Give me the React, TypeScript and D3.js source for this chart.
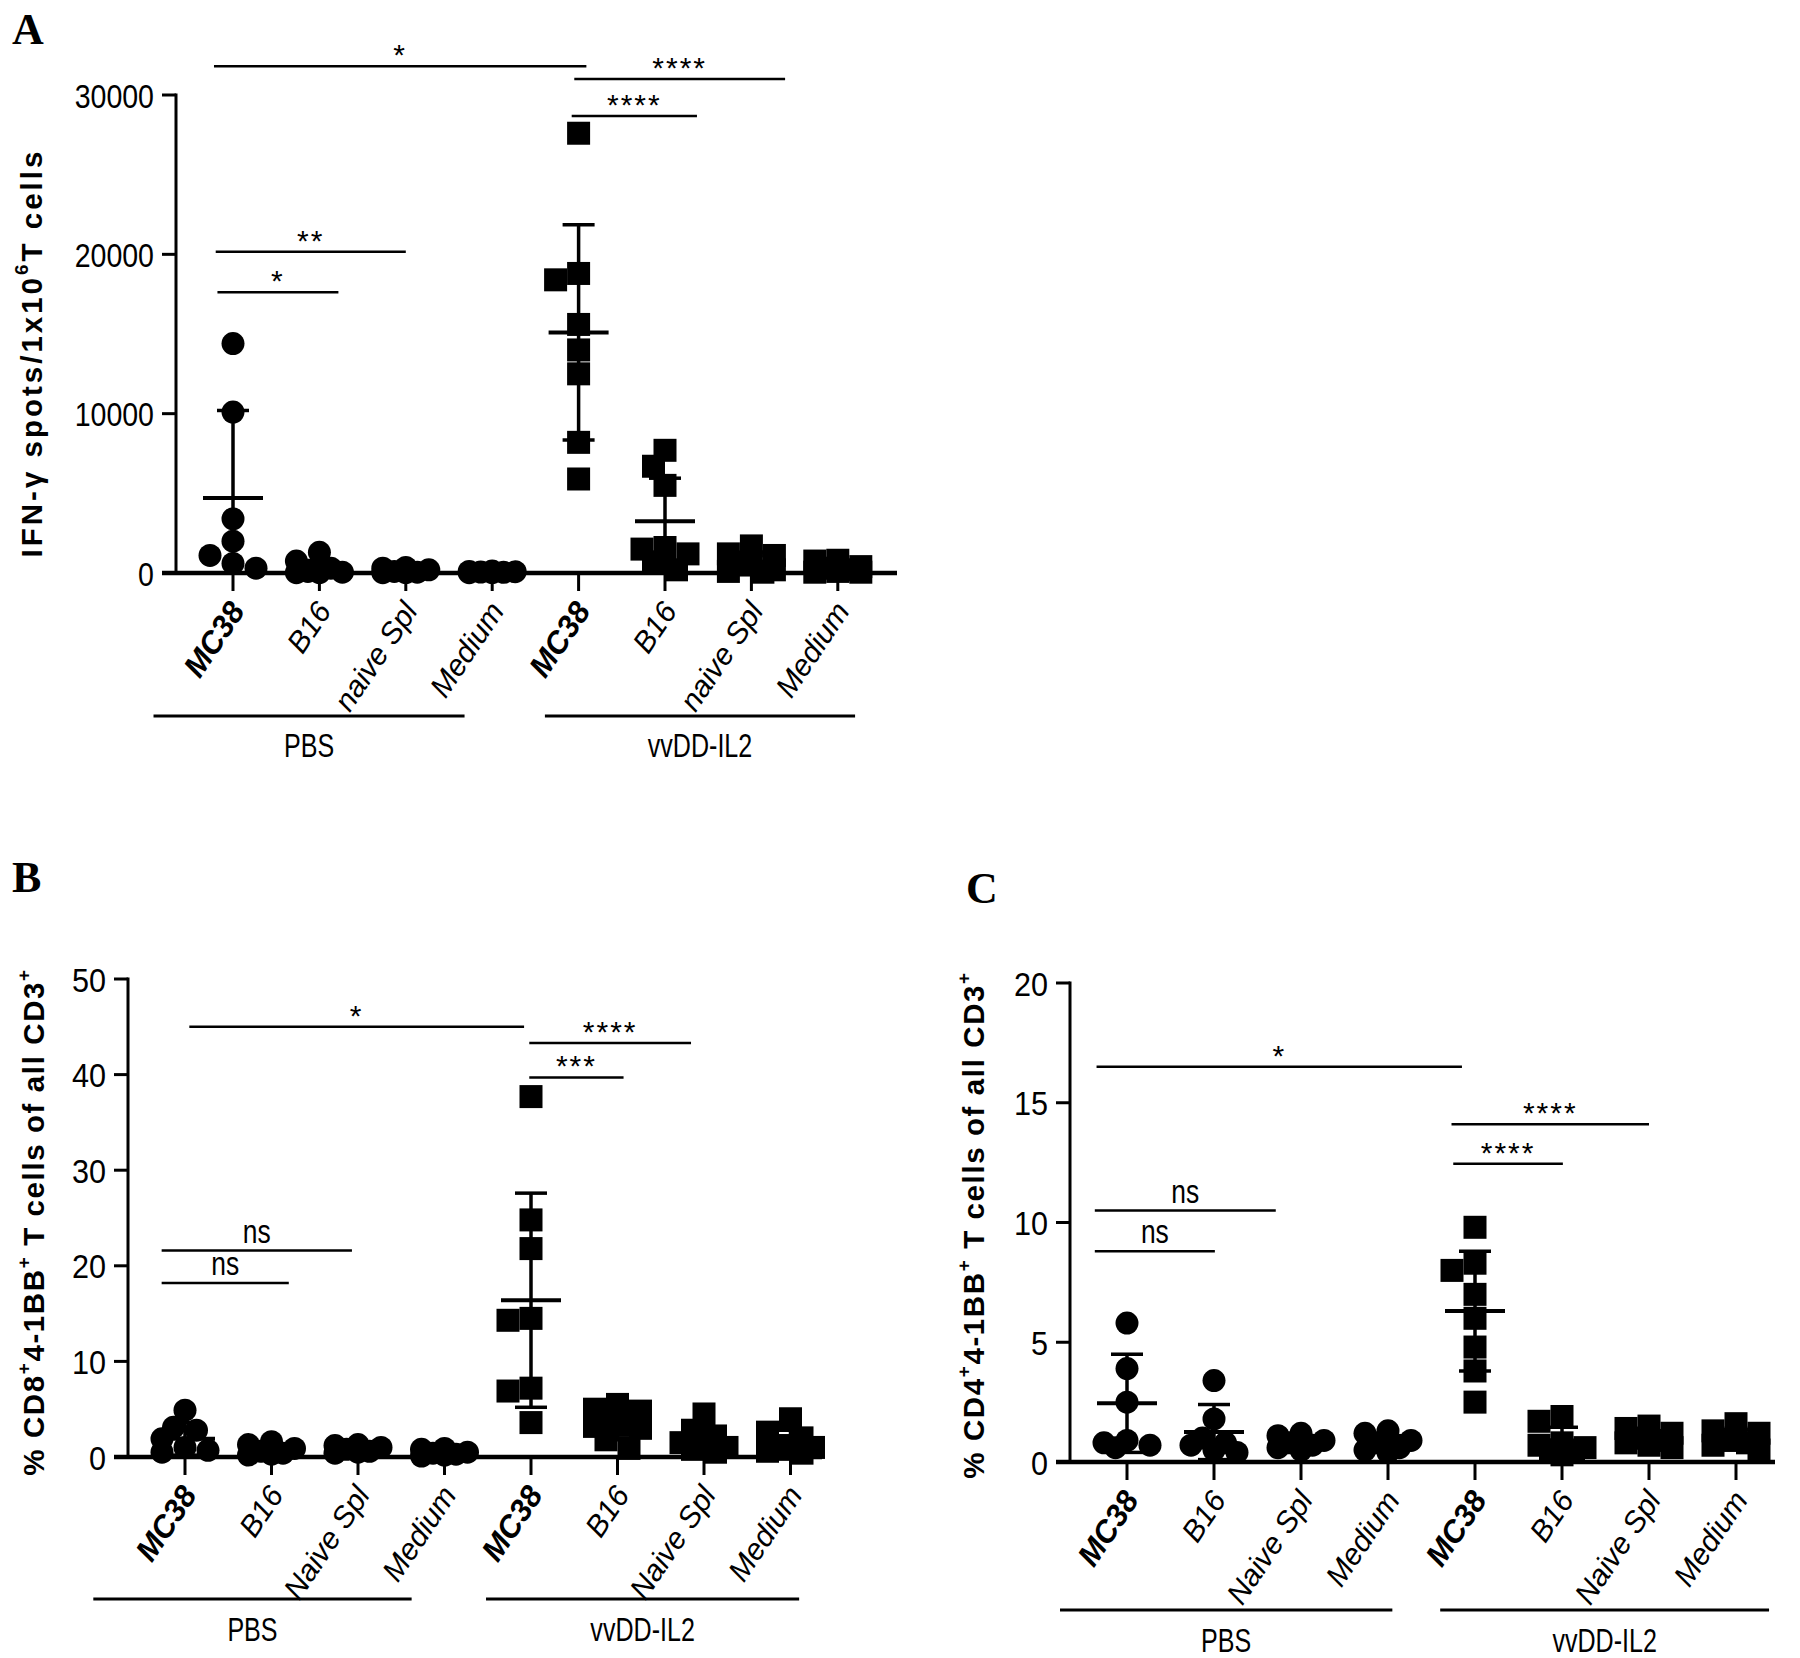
import React from 'react';
import * as d3 from 'd3';

const W = 1800;
const H = 1658;

// ---------- categories / groups ----------
const categoriesA = ['MC38', 'B16', 'naive Spl', 'Medium', 'MC38', 'B16', 'naive Spl', 'Medium'];
const categoriesBC = ['MC38', 'B16', 'Naive Spl', 'Medium', 'MC38', 'B16', 'Naive Spl', 'Medium'];
const groupNames = ['PBS', 'vvDD-IL2'];

// ---------- Panel A : IFN-γ spots ----------
const ifnValues = [
  [14400, 10100, 3400, 2000, 1100, 600, 300],
  [1300, 750, 300, 100, 50, 30, 20],
  [350, 300, 200, 100, 50, 30, 20],
  [120, 100, 80, 60, 40, 30, 20],
  [27600, 18800, 18400, 15600, 14000, 12500, 8200, 5900],
  [7700, 6700, 5500, 1600, 1500, 1200, 700, 200],
  [1700, 1200, 1100, 700, 500, 200, 100, 50],
  [800, 750, 400, 300, 200, 100, 50, 50],
];
const ifnMeans = [4700, 330, 150, 60, 15100, 3250, 700, 330];
const ifnSD = [5500, 450, 130, 40, 6750, 2700, 600, 300];
const ifnTicks = [0, 10000, 20000, 30000];
const ifnSig = [
  { from: -0.22, to: 4.09, value: 31800, label: '*' },
  { from: 3.95, to: 6.39, value: 31000, label: '****' },
  { from: 3.92, to: 5.37, value: 28680, label: '****' },
  { from: -0.2, to: 2.0, value: 20160, label: '**' },
  { from: -0.18, to: 1.22, value: 17620, label: '*' },
];
const ifnGroupSpans = [[-0.92, 2.68], [3.61, 7.2]];

// ---------- Panel B : CD8+ 4-1BB+ ----------
const cd8Values = [
  [4.9, 3.1, 2.8, 1.9, 1.0, 0.7, 0.5],
  [1.6, 1.3, 0.9, 0.6, 0.4, 0.3, 0.2],
  [1.3, 1.2, 1.0, 0.8, 0.6, 0.5, 0.4],
  [0.9, 0.8, 0.5, 0.4, 0.3, 0.2, 0.1],
  [37.7, 24.8, 21.8, 14.5, 14.3, 7.2, 6.9, 3.6],
  [5.5, 5.0, 4.8, 3.3, 3.2, 3.0, 1.8, 0.9],
  [4.5, 2.8, 2.2, 1.5, 1.2, 1.0, 0.8, 0.5],
  [4.0, 2.6, 2.0, 1.2, 1.0, 0.8, 0.6, 0.4],
];
const cd8Means = [1.9, 0.8, 0.8, 0.45, 16.4, 3.4, 1.8, 1.6];
const cd8SD = [1.7, 0.5, 0.3, 0.25, 11.2, 1.6, 1.3, 1.2];
const cd8Ticks = [0, 10, 20, 30, 40, 50];
const cd8Sig = [
  { from: 0.05, to: 3.92, value: 45.0, label: '*' },
  { from: 3.98, to: 5.85, value: 43.3, label: '****' },
  { from: 3.98, to: 5.07, value: 39.7, label: '***' },
  { from: -0.27, to: 1.93, value: 21.6, label: 'ns' },
  { from: -0.27, to: 1.2, value: 18.2, label: 'ns' },
];
const cd8GroupSpans = [[-1.06, 2.62], [3.48, 7.1]];

// ---------- Panel C : CD4+ 4-1BB+ ----------
const cd4Values = [
  [5.8, 3.9, 2.5, 0.9, 0.8, 0.7, 0.6],
  [3.4, 1.8, 1.0, 0.8, 0.7, 0.5, 0.4],
  [1.2, 1.1, 0.9, 0.8, 0.7, 0.6, 0.5],
  [1.3, 1.2, 0.9, 0.8, 0.6, 0.5, 0.4],
  [9.8, 8.3, 8.0, 7.0, 6.0, 4.8, 3.8, 2.5],
  [1.9, 1.7, 0.8, 0.7, 0.6, 0.5, 0.4, 0.3],
  [1.5, 1.4, 1.2, 1.0, 0.9, 0.8, 0.7, 0.6],
  [1.6, 1.3, 1.2, 1.0, 0.9, 0.8, 0.7, 0.5],
];
const cd4Means = [2.45, 1.25, 0.85, 0.8, 6.3, 0.9, 0.95, 0.95];
const cd4SD = [2.05, 1.15, 0.2, 0.3, 2.5, 0.55, 0.35, 0.4];
const cd4Ticks = [0, 5, 10, 15, 20];
const cd4Sig = [
  { from: -0.35, to: 3.85, value: 16.5, label: '*' },
  { from: 3.73, to: 6.0, value: 14.1, label: '****' },
  { from: 3.75, to: 5.01, value: 12.45, label: '****' },
  { from: -0.37, to: 1.71, value: 10.5, label: 'ns' },
  { from: -0.37, to: 1.01, value: 8.8, label: 'ns' },
];
const cd4GroupSpans = [[-0.77, 3.05], [3.6, 7.38]];

// ---------- layout (positions only) ----------
const layoutA = { axisX: 176, y0: 573, yTop: 95, cat0: 233, step: 86.4, xEnd: 897, tickSx: 0.84, groupLineY: 716, groupLabelY: 757, yLabelX: 34, yLabelY: 353, yLabelLS: 3, letter: 'A', letterX: 12, letterY: 44 };
const layoutB = { axisX: 128, y0: 1457, yTop: 979, cat0: 185, step: 86.5, xEnd: 822, tickSx: 0.9, groupLineY: 1599, groupLabelY: 1641, yLabelX: 36, yLabelY: 1222, yLabelLS: 1.6, letter: 'B', letterX: 12, letterY: 892 };
const layoutC = { axisX: 1070, y0: 1462, yTop: 983, cat0: 1127, step: 87, xEnd: 1775, tickSx: 0.9, groupLineY: 1610, groupLabelY: 1652, yLabelX: 976, yLabelY: 1225, yLabelLS: 1.6, letter: 'C', letterX: 966, letterY: 903 };

const SANS = '"Liberation Sans", Arial, Helvetica, sans-serif';
const SERIF = '"Liberation Serif", "Times New Roman", serif';

function swarmOffsets(values: number[], y: (v: number) => number, size: number): number[] {
  const order = values.map((_, i) => i).sort((a, b) => values[b] - values[a]);
  const placed: { x: number; y: number }[] = [];
  const offsets = new Array(values.length).fill(0);
  const step = size * 0.5;
  const thr = size * 0.85;
  const cands = [0, -1, 1, -2, 2];
  for (const i of order) {
    const py = y(values[i]);
    let best = 0;
    let bestD = -1;
    for (const c of cands) {
      const px = c * step;
      let md = Infinity;
      for (const p of placed) md = Math.min(md, Math.hypot(p.x - px, p.y - py));
      if (md >= thr) { best = px; bestD = Infinity; break; }
      if (md > bestD) { bestD = md; best = px; }
    }
    offsets[i] = best;
    placed.push({ x: best, y: py });
  }
  return offsets;
}

function CondText({ x, y, sx, anchor, size, children, weight }: any) {
  return (
    <text transform={`translate(${x},${y}) scale(${sx},1)`} textAnchor={anchor} fontSize={size}
      fontFamily={SANS} fontWeight={weight || 'normal'} fill="#000">{children}</text>
  );
}

function Panel({ L, names, values, means, sds, ticks, sig, spans, yLabel }: any) {
  const yMax = ticks[ticks.length - 1];
  const y = d3.scaleLinear().domain([0, yMax]).range([L.y0, L.yTop]);
  const x = d3.scaleLinear().domain([0, 7]).range([L.cat0, L.cat0 + 7 * L.step]);
  const cats = d3.range(names.length);
  const markerSize = 23;
  const fmt = d3.format('d');

  return (
    <g>
      <text x={L.letterX} y={L.letterY} fontFamily={SERIF} fontWeight="bold" fontSize={44}>{L.letter}</text>

      {/* y label */}
      <text transform={`translate(${L.yLabelX},${L.yLabelY}) rotate(-90)`} textAnchor="middle"
        fontFamily={SANS} fontWeight="bold" fontSize={29.5} letterSpacing={L.yLabelLS} dominantBaseline="middle">
        {yLabel}
      </text>

      {/* points */}
      {cats.map((ci) => {
        const vals = values[ci];
        const offs = swarmOffsets(vals, y, markerSize);
        return vals.map((v: number, j: number) => {
          const cx = x(ci) + offs[j];
          const cy = y(v);
          return ci < 4
            ? <circle key={`p${ci}-${j}`} cx={cx} cy={cy} r={markerSize / 2} fill="#000" />
            : <rect key={`p${ci}-${j}`} x={cx - markerSize / 2} y={cy - markerSize / 2} width={markerSize} height={markerSize} fill="#000" />;
        });
      })}

      {/* mean & SD */}
      {cats.map((ci) => {
        const m = means[ci];
        const s = sds[ci];
        const cx = x(ci);
        const lo = Math.max(0, m - s);
        return (
          <g key={`e${ci}`} stroke="#000" strokeWidth={3.5}>
            <line x1={cx} x2={cx} y1={y(lo)} y2={y(m + s)} />
            <line x1={cx - 16} x2={cx + 16} y1={y(m + s)} y2={y(m + s)} />
            {m - s > 0 && <line x1={cx - 16} x2={cx + 16} y1={y(lo)} y2={y(lo)} />}
            <line x1={cx - 30} x2={cx + 30} y1={y(m)} y2={y(m)} strokeWidth={4} />
          </g>
        );
      })}

      {/* axes */}
      <line x1={L.axisX} x2={L.axisX} y1={L.yTop - 1.5} y2={L.y0} stroke="#000" strokeWidth={3} />
      <line x1={L.axisX - 14} x2={L.xEnd} y1={L.y0} y2={L.y0} stroke="#000" strokeWidth={4.5} />
      {ticks.map((t: number) => (
        <g key={`yt${t}`}>
          <line x1={L.axisX - 14} x2={L.axisX} y1={y(t)} y2={y(t)} stroke="#000" strokeWidth={3} />
          <CondText x={L.axisX - 22} y={y(t) + 12.5} sx={L.tickSx} anchor="end" size={34}>{fmt(t)}</CondText>
        </g>
      ))}
      {cats.map((ci) => (
        <line key={`xt${ci}`} x1={x(ci)} x2={x(ci)} y1={L.y0} y2={L.y0 + 18} stroke="#000" strokeWidth={3} />
      ))}
      {cats.map((ci) => (
        <text key={`xl${ci}`} transform={`translate(${x(ci) + 13},${L.y0 + 38}) rotate(-56)`} textAnchor="end"
          fontFamily={SANS} fontStyle="italic" fontWeight={ci % 4 === 0 ? 'bold' : 'normal'} fontSize={ci % 4 === 0 ? 31 : 30}>
          {names[ci]}
        </text>
      ))}

      {/* group lines */}
      {spans.map((sp: number[], gi: number) => (
        <g key={`g${gi}`}>
          <line x1={x(sp[0])} x2={x(sp[1])} y1={L.groupLineY} y2={L.groupLineY} stroke="#000" strokeWidth={3} />
          <CondText x={(x(sp[0]) + x(sp[1])) / 2} y={L.groupLabelY} sx={0.76} anchor="middle" size={33}>{groupNames[gi]}</CondText>
        </g>
      ))}

      {/* significance */}
      {sig.map((s: any, i: number) => {
        const x1 = x(s.from);
        const x2 = x(s.to);
        const yy = y(s.value);
        const isStar = s.label.indexOf('*') >= 0;
        return (
          <g key={`s${i}`}>
            <line x1={x1} x2={x2} y1={yy} y2={yy} stroke="#000" strokeWidth={2.5} />
            {isStar
              ? <text x={(x1 + x2) / 2} y={yy - 1} textAnchor="middle" fontFamily={SANS} fontSize={30} letterSpacing={2}>{s.label}</text>
              : <CondText x={(x1 + x2) / 2} y={yy - 8} sx={0.8} anchor="middle" size={33}>{s.label}</CondText>}
          </g>
        );
      })}
    </g>
  );
}

export default function App() {
  const sup = (t: string) => <tspan dy={-11} fontSize={19}>{t}</tspan>;
  const down = (t: string) => <tspan dy={11}>{t}</tspan>;
  const labelA = (<>IFN-γ spots/1x10{sup('6')}{down('T cells')}</>);
  const labelB = (<>% CD8{sup('+')}{down('4-1BB')}{sup('+')}{down(' T cells of all CD3')}{sup('+')}</>);
  const labelC = (<>% CD4{sup('+')}{down('4-1BB')}{sup('+')}{down(' T cells of all CD3')}{sup('+')}</>);
  return (
    <svg width={W} height={H} viewBox={`0 0 ${W} ${H}`} style={{ position: 'absolute', left: 0, top: 0, background: '#fff' }}>
      <rect x={0} y={0} width={W} height={H} fill="#fff" />
      <Panel L={layoutA} names={categoriesA} values={ifnValues} means={ifnMeans} sds={ifnSD} ticks={ifnTicks} sig={ifnSig} spans={ifnGroupSpans} yLabel={labelA} />
      <Panel L={layoutB} names={categoriesBC} values={cd8Values} means={cd8Means} sds={cd8SD} ticks={cd8Ticks} sig={cd8Sig} spans={cd8GroupSpans} yLabel={labelB} />
      <Panel L={layoutC} names={categoriesBC} values={cd4Values} means={cd4Means} sds={cd4SD} ticks={cd4Ticks} sig={cd4Sig} spans={cd4GroupSpans} yLabel={labelC} />
    </svg>
  );
}
